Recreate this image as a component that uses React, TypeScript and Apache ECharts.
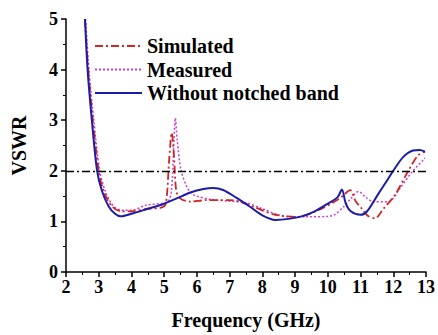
import React, { useEffect, useRef } from "react";
import * as echarts from "echarts";

const xTicks = [2, 3, 4, 5, 6, 7, 8, 9, 10, 11, 12, 13];
const yTicks = [0, 1, 2, 3, 4, 5];
const seriesNames = ["Simulated", "Measured", "Without notched band"];

const simulated: [number, number][] = [
  [2.58, 5], [2.68, 4], [2.82, 3], [3.0, 2], [3.15, 1.6], [3.4, 1.3], [3.7, 1.2], [4.0, 1.2],
  [4.5, 1.25], [4.9, 1.27], [5.05, 1.35], [5.15, 2.2], [5.23, 2.75], [5.3, 2.3], [5.37, 1.6],
  [5.5, 1.45], [5.8, 1.39], [6.3, 1.42], [7.0, 1.42], [7.3, 1.39], [7.8, 1.27], [8.4, 1.13],
  [9.1, 1.09], [9.7, 1.22], [10.2, 1.39], [10.45, 1.5], [10.68, 1.62], [10.85, 1.4],
  [11.03, 1.26], [11.2, 1.12], [11.44, 1.06], [11.7, 1.25], [12.05, 1.52], [12.46, 2.0],
  [12.75, 2.3], [12.97, 2.38],
];

const measured: [number, number][] = [
  [2.6, 5], [2.7, 4], [2.85, 3], [3.03, 2], [3.2, 1.6], [3.45, 1.3], [3.73, 1.22], [4.0, 1.22],
  [4.45, 1.32], [5.1, 1.39], [5.22, 1.6], [5.3, 2.6], [5.34, 3.04], [5.4, 2.6], [5.52, 2.0],
  [5.77, 1.59], [6.0, 1.5], [6.38, 1.44], [7.0, 1.4], [7.5, 1.37], [8.0, 1.25], [8.5, 1.13],
  [9.0, 1.09], [9.42, 1.09], [10.0, 1.1], [10.2, 1.13], [10.48, 1.29], [10.7, 1.45],
  [10.94, 1.59], [11.15, 1.48], [11.39, 1.39], [11.85, 1.39], [12.2, 1.65], [12.55, 1.96],
  [12.97, 2.25],
];

const withoutNotch: [number, number][] = [
  [2.58, 5], [2.66, 4], [2.79, 3], [2.95, 2], [3.1, 1.6], [3.3, 1.3], [3.5, 1.15], [3.67, 1.1],
  [4.0, 1.15], [4.5, 1.25], [5.0, 1.35], [5.4, 1.46], [5.8, 1.57], [6.2, 1.64], [6.5, 1.66],
  [6.8, 1.62], [7.2, 1.47], [7.6, 1.3], [8.0, 1.12], [8.4, 1.03], [8.8, 1.05], [9.2, 1.1],
  [9.6, 1.2], [10.0, 1.35], [10.3, 1.48], [10.43, 1.63], [10.55, 1.35], [10.7, 1.2],
  [11.0, 1.13], [11.2, 1.2], [11.5, 1.5], [11.8, 1.8], [12.0, 2.0], [12.3, 2.27], [12.6, 2.4],
  [12.8, 2.41], [12.97, 2.38],
];

const threshold = 2;

const FONT = "'Liberation Serif', 'DejaVu Serif', serif";

export default function App() {
  const ref = useRef<HTMLDivElement>(null);
  useEffect(() => {
    if (!ref.current) return;
    const chart = echarts.init(ref.current, undefined, { renderer: "svg" });
    const tickStyle = { fontFamily: FONT, fontWeight: "bold" as const, fontSize: 18, color: "#000" };
    const nameStyle = { fontFamily: FONT, fontWeight: "bold" as const, fontSize: 20, color: "#000" };
    chart.setOption({
      animation: false,
      backgroundColor: "#fff",
      textStyle: { fontFamily: FONT, fontWeight: "bold" },
      grid: { left: 66, right: 10, top: 19, bottom: 63, containLabel: false },
      legend: {
        orient: "vertical",
        left: 89,
        top: 31,
        itemWidth: 47,
        itemHeight: 10,
        itemGap: 3.5,
        data: seriesNames,
        itemStyle: { opacity: 0 },
        textStyle: { ...nameStyle },
      },
      xAxis: {
        type: "value",
        min: xTicks[0],
        max: xTicks[xTicks.length - 1],
        interval: 1,
        name: "Frequency (GHz)",
        nameLocation: "middle",
        nameGap: 38,
        nameTextStyle: nameStyle,
        axisLine: { show: true, onZero: false, lineStyle: { color: "#000", width: 1.5 } },
        axisTick: { show: true, length: 5, lineStyle: { color: "#000", width: 1.5 } },
        minorTick: { show: true, splitNumber: 2, length: 3, lineStyle: { color: "#000", width: 1 } },
        axisLabel: { ...tickStyle, margin: 6 },
        splitLine: { show: false },
      },
      yAxis: {
        type: "value",
        min: yTicks[0],
        max: yTicks[yTicks.length - 1],
        interval: 1,
        name: "VSWR",
        nameLocation: "middle",
        nameGap: 37,
        nameTextStyle: nameStyle,
        axisLine: { show: true, onZero: false, lineStyle: { color: "#000", width: 1.5 } },
        axisTick: { show: true, length: 5, lineStyle: { color: "#000", width: 1.5 } },
        minorTick: { show: true, splitNumber: 2, length: 3, lineStyle: { color: "#000", width: 1 } },
        axisLabel: { ...tickStyle, margin: 8 },
        splitLine: { show: false },
      },
      series: [
        {
          name: seriesNames[0],
          type: "line",
          data: simulated,
          smooth: 0.3,
          symbol: "none",
          itemStyle: { color: "#d02525" },
          lineStyle: { color: "#d02525", width: 1.8, type: [8, 3, 2, 3] },
          markLine: {
            silent: true,
            symbol: "none",
            label: { show: false },
            lineStyle: { color: "#000", width: 1.3, type: [8, 3, 2, 3] },
            data: [{ yAxis: threshold }],
          },
          z: 3,
        },
        {
          name: seriesNames[1],
          type: "line",
          data: measured,
          smooth: 0.3,
          symbol: "none",
          itemStyle: { color: "#c940d0" },
          lineStyle: { color: "#c940d0", width: 1.5, type: [2, 2] },
          z: 2,
        },
        {
          name: seriesNames[2],
          type: "line",
          data: withoutNotch,
          smooth: 0.3,
          symbol: "none",
          itemStyle: { color: "#1c1ca8" },
          lineStyle: { color: "#1c1ca8", width: 2 },
          z: 4,
        },
      ],
    });
    return () => chart.dispose();
  }, []);
  return <div ref={ref} style={{ width: 438, height: 335, position: "absolute", left: 0, top: 0 }} />;
}
